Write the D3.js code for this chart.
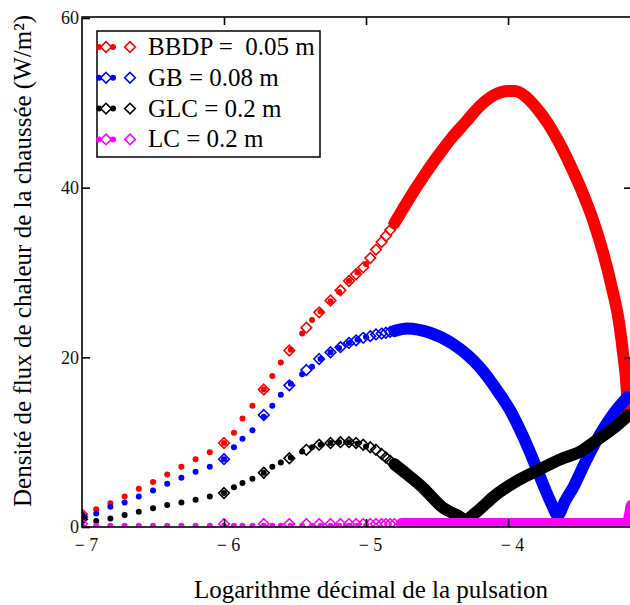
<!DOCTYPE html>
<html>
<head>
<meta charset="utf-8">
<script src="https://cdn.jsdelivr.net/npm/d3@7"></script>
<style>
    body { margin: 0; background: #fff; }
    text { font-family: "Liberation Serif", "Times New Roman", serif; }
</style>
</head>
<body>
<div id="svgDiv"></div>
<script>
    // series names / colours
    var seriesNames = ['BBDP =  0.05 m', 'GB = 0.08 m', 'GLC = 0.2 m', 'LC = 0.2 m'];
    var seriesColors = ['#ff0000', '#0000ff', '#000000', '#ff00ff'];

    // tick labels
    var xTicks = [-7, -6, -5, -4];
    var yTicks = [0, 20, 40, 60];

    // sparse dot samples (log10 of pulsation)
    var xDots = [-7, -6.9, -6.8, -6.7, -6.6, -6.5, -6.4, -6.3, -6.2, -6.1, -6.0, -5.93, -5.87, -5.8,
        -5.72, -5.66, -5.6, -5.53, -5.45, -5.38, -5.32, -5.25, -5.19, -5.12, -5.06, -5.0];
    var bbdpDots = [1.5, 2.1, 2.8, 3.6, 4.5, 5.3, 6.2, 7.1, 8.0, 8.8, 9.9, 11.1, 12.8, 14.3,
        16.2, 17.8, 19.4, 20.9, 22.8, 24.4, 25.4, 26.6, 27.7, 29.0, 30.0, 31.0];
    var gbDots = [1.2, 1.6, 2.4, 2.9, 3.6, 4.3, 5.1, 5.8, 6.5, 7.1, 8.0, 9.4, 10.4, 11.4,
        13.0, 14.3, 15.6, 16.9, 18.0, 18.9, 19.8, 20.6, 21.1, 21.7, 22.1, 22.4];
    var glcDots = [0.9, 0.7, 1.0, 1.4, 1.8, 2.2, 2.6, 2.9, 3.2, 3.6, 4.0, 4.7, 5.2, 5.7,
        6.4, 7.1, 7.6, 8.2, 8.9, 9.4, 9.7, 9.9, 10.0, 10.0, 9.8, 9.5];
    var lcDots = [0.15, 0.15, 0.15, 0.15, 0.15, 0.15, 0.15, 0.15, 0.15, 0.15, 0.15, 0.15, 0.15, 0.15,
        0.15, 0.15, 0.15, 0.15, 0.15, 0.15, 0.15, 0.15, 0.15, 0.15, 0.15, 0.15];

    // sparse diamond samples
    var xDiamonds = [-7, -6.0, -5.72, -5.54, -5.42, -5.33, -5.25, -5.18, -5.12, -5.07, -5.02, -4.97,
        -4.93, -4.89, -4.86, -4.83, -4.8];
    var bbdpDiamonds = [1.5, 9.9, 16.2, 20.8, 23.5, 25.3, 26.7, 27.9, 29.0, 29.8, 30.6, 31.7,
        32.7, 33.6, 34.3, 35.0, 35.8];
    var gbDiamonds = [1.2, 8.0, 13.2, 16.7, 18.5, 19.8, 20.6, 21.2, 21.7, 22.0, 22.3, 22.5,
        22.7, 22.8, 22.9, 23.0, 23.1];
    var glcDiamonds = [0.9, 4.0, 6.4, 8.1, 9.1, 9.7, 9.9, 10.0, 10.0, 9.9, 9.7, 9.4,
        9.1, 8.6, 8.2, 7.8, 7.4];
    var lcDiamonds = [0.35, 0.35, 0.35, 0.35, 0.35, 0.35, 0.35, 0.35, 0.35, 0.35, 0.35, 0.35,
        0.35, 0.35, 0.35, 0.35, 0.35];

    // dense part of each curve (markers overlap into a band) [x, y]
    var bbdpBand = [[-4.8, 35.8], [-4.7, 38.6], [-4.6, 41.2], [-4.5, 43.6], [-4.4, 45.8], [-4.3, 47.7],
        [-4.2, 49.6], [-4.1, 50.9], [-4.0, 51.4], [-3.95, 51.4], [-3.88, 50.8], [-3.8, 49.4],
        [-3.72, 47.6], [-3.64, 45.3], [-3.56, 42.6], [-3.49, 40.0], [-3.4, 36.1], [-3.33, 32.3],
        [-3.27, 28.3], [-3.22, 24.3], [-3.19, 20.5], [-3.165, 16.5], [-3.155, 13.5]];
    var gbBand = [[-4.8, 23.1], [-4.71, 23.4], [-4.55, 22.9], [-4.39, 21.6], [-4.2, 18.85],
        [-4.06, 15.7], [-3.98, 13.6], [-3.9, 10.9], [-3.82, 7.8], [-3.75, 4.9], [-3.69, 2.6],
        [-3.65, 1.4], [-3.6, 3.0], [-3.54, 4.7], [-3.45, 7.85], [-3.35, 11.0], [-3.26, 13.3], [-3.16, 15.3]];
    var glcBand = [[-4.8, 7.4], [-4.74, 6.6], [-4.6, 4.65], [-4.46, 2.3], [-4.36, 1.4], [-4.3, 0.9],
        [-4.22, 1.8], [-4.1, 3.6], [-3.96, 5.2], [-3.8, 6.6], [-3.63, 8.0], [-3.49, 8.9],
        [-3.37, 10.3], [-3.26, 11.6], [-3.15, 13.2]];
    var lcBand = [[-4.75, 0.35], [-4.4, 0.35], [-4.0, 0.35], [-3.6, 0.35], [-3.2, 0.35], [-3.16, 0.4],
        [-3.14, 1.5], [-3.13, 2.5]];

    var dotsY = [bbdpDots, gbDots, glcDots, lcDots];
    var diamondsY = [bbdpDiamonds, gbDiamonds, glcDiamonds, lcDiamonds];
    var bands = [bbdpBand, gbBand, glcBand, lcBand];

    var width = 630, height = 605;
    var margin = {top: 18, left: 82, bottom: 527, right: 632};

    var svg = d3.select('#svgDiv').append('svg')
        .attr('width', width)
        .attr('height', height);

    var x = d3.scaleLinear().domain([-7, -3.127]).range([margin.left, margin.right]);
    var y = d3.scaleLinear().domain([0, 60]).range([margin.bottom, margin.top]);

    svg.append('clipPath').attr('id', 'plotClip')
        .append('rect')
        .attr('x', margin.left).attr('y', margin.top - 1)
        .attr('width', margin.right - margin.left)
        .attr('height', margin.bottom - margin.top + 1);

    var plot = svg.append('g').attr('clip-path', 'url(#plotClip)');
    var diamond = d3.symbol().type(d3.symbolDiamond2).size(72);

    // Draw each series: band, diamonds, dots
    seriesNames.forEach(function (name, i) {
        var color = seriesColors[i];
        var g = plot.append('g');

        g.append('path')
            .datum(bands[i])
            .attr('fill', 'none')
            .attr('stroke', color)
            .attr('stroke-width', 12)
            .attr('stroke-linejoin', 'round')
            .attr('stroke-linecap', 'round')
            .attr('d', d3.line()
                .x(function (d) { return x(d[0]); })
                .y(function (d) { return y(d[1]); })
                .curve(d3.curveMonotoneX));

        g.selectAll('path.dia')
            .data(xDiamonds)
            .enter().append('path')
            .attr('class', 'dia')
            .attr('d', diamond)
            .attr('transform', function (d, k) {
                return 'translate(' + x(d) + ',' + y(diamondsY[i][k]) + ')';
            })
            .attr('fill', 'none')
            .attr('stroke', color)
            .attr('stroke-width', 1.6);

        g.selectAll('circle')
            .data(xDots)
            .enter().append('circle')
            .attr('cx', function (d) { return x(d); })
            .attr('cy', function (d, k) { return y(dotsY[i][k]); })
            .attr('r', 3)
            .attr('fill', color);
    });

    // Frame
    svg.append('rect')
        .attr('x', margin.left).attr('y', margin.top - 1)
        .attr('width', margin.right - margin.left)
        .attr('height', margin.bottom - margin.top + 1)
        .attr('fill', 'none')
        .attr('stroke', '#000')
        .attr('stroke-width', 1.6);

    // Axes
    var axisBottom = svg.append('g')
        .attr('transform', 'translate(0,' + margin.bottom + ')')
        .call(d3.axisBottom(x).tickValues(xTicks).tickSize(-8).tickPadding(11)
            .tickFormat(function (d) { return '\u2212 ' + Math.abs(d); }));
    var axisTop = svg.append('g')
        .attr('transform', 'translate(0,' + (margin.top - 1) + ')')
        .call(d3.axisTop(x).tickValues(xTicks.slice(1)).tickSize(-8).tickFormat(''));
    var axisLeft = svg.append('g')
        .attr('transform', 'translate(' + margin.left + ',0)')
        .call(d3.axisLeft(y).tickValues(yTicks).tickSize(-8).tickPadding(3));
    var axisRight = svg.append('g')
        .attr('transform', 'translate(' + margin.right + ',0)')
        .call(d3.axisRight(y).tickValues([20, 40]).tickSize(-8).tickFormat(''));

    [axisBottom, axisTop, axisLeft, axisRight].forEach(function (a) {
        a.select('.domain').remove();
        a.selectAll('line').attr('stroke', '#000').attr('stroke-width', 1.6);
        a.selectAll('text')
            .attr('fill', '#111')
            .style('font-family', '"Liberation Serif", serif')
            .style('font-size', '18px');
    });
    axisBottom.selectAll('text').attr('dx', 4);

    // Axis titles
    svg.append('text')
        .attr('transform', 'translate(31,261) rotate(-90)')
        .attr('text-anchor', 'middle')
        .style('font-size', '25px')
        .text('Densité de flux de chaleur de la chaussée (W/m²)');

    svg.append('text')
        .attr('x', 371).attr('y', 598)
        .attr('text-anchor', 'middle')
        .style('font-size', '25px')
        .text('Logarithme décimal de la pulsation');

    // Legend
    var legend = svg.append('g');
    legend.append('rect')
        .attr('x', 97).attr('y', 31)
        .attr('width', 223).attr('height', 126)
        .attr('fill', '#fff')
        .attr('stroke', '#000')
        .attr('stroke-width', 1.5);

    seriesNames.forEach(function (name, i) {
        var cy = 47 + i * 30.8;
        var color = seriesColors[i];
        [99, 113].forEach(function (cx) {
            legend.append('circle').attr('cx', cx).attr('cy', cy).attr('r', 3).attr('fill', color);
        });
        [106, 130].forEach(function (cx) {
            legend.append('path')
                .attr('d', diamond)
                .attr('transform', 'translate(' + cx + ',' + cy + ')')
                .attr('fill', 'none')
                .attr('stroke', color)
                .attr('stroke-width', 1.6);
        });
        legend.append('text')
            .attr('x', 148).attr('y', cy + 8)
            .style('font-size', '25px')
            .style('white-space', 'pre')
            .text(name);
    });
</script>
</body>
</html>
